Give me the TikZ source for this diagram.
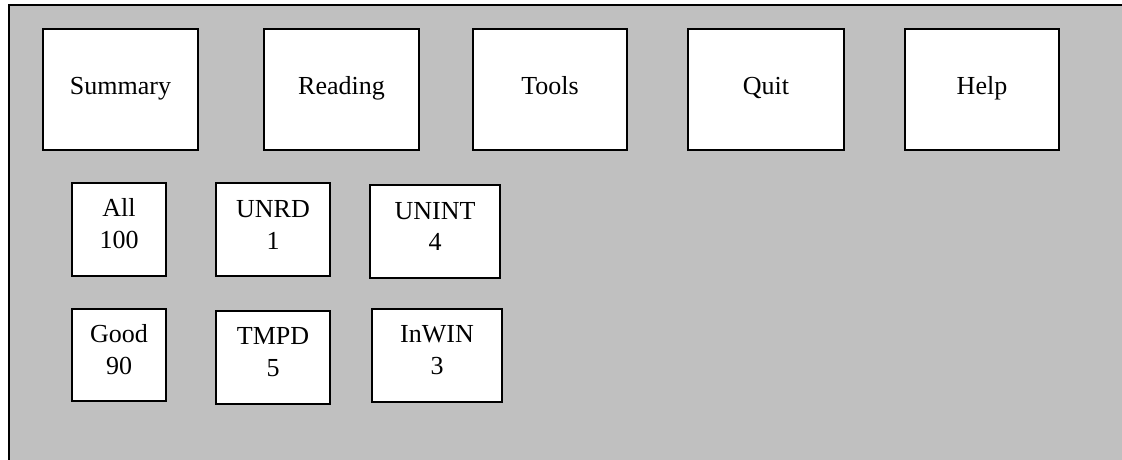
\documentclass[tikz,border=0pt]{standalone}
\usepackage{fontspec}
\setmainfont{Liberation Serif}
\definecolor{panelgray}{HTML}{C0C0C0}
\begin{document}
\begin{tikzpicture}[x=1bp,y=-1bp,
  boxstyle/.style={draw=black, line width=1.5bp, fill=white},
  txt/.style={anchor=base, inner sep=0pt, font=\fontsize{26bp}{31.5bp}\selectfont}]
\useasboundingbox (0,0) rectangle (1122,460);
\path[draw=black, line width=1.5bp, fill=panelgray] (9,5) rectangle (1140,480);
% top row
\path[boxstyle] (43,29) rectangle (198,150) node[pos=0.5] (summarybox) {};
\node[txt] (summary) at (120.5,95) {Summary};
\path[boxstyle] (264,29) rectangle (419,150) node[pos=0.5] (readingbox) {};
\node[txt] (reading) at (341.5,95) {Reading};
\path[boxstyle] (473,29) rectangle (627,150) node[pos=0.5] (toolsbox) {};
\node[txt] (tools) at (550,95) {Tools};
\path[boxstyle] (688,29) rectangle (844,150) node[pos=0.5] (quitbox) {};
\node[txt] (quit) at (766,95) {Quit};
\path[boxstyle] (905,29) rectangle (1059,150) node[pos=0.5] (helpbox) {};
\node[txt] (help) at (982,95) {Help};
% second row
\path[boxstyle] (72,183) rectangle (166,276) node[pos=0.5] (allbox) {};
\node[txt] (allA) at (119,217) {All};
\node[txt] (allB) at (119,249) {100};
\path[boxstyle] (216,183) rectangle (330,276) node[pos=0.5] (unrdbox) {};
\node[txt] (unrdA) at (273,217.5) {UNRD};
\node[txt] (unrdB) at (273,249.5) {1};
\path[boxstyle] (370,185) rectangle (500,278) node[pos=0.5] (unintbox) {};
\node[txt] (unintA) at (435,219.5) {UNINT};
\node[txt] (unintB) at (435,251) {4};
% third row
\path[boxstyle] (72,309) rectangle (166,401) node[pos=0.5] (goodbox) {};
\node[txt] (goodA) at (119,343) {Good};
\node[txt] (goodB) at (119,375) {90};
\path[boxstyle] (216,311) rectangle (330,404) node[pos=0.5] (tmpdbox) {};
\node[txt] (tmpdA) at (273,345) {TMPD};
\node[txt] (tmpdB) at (273,377) {5};
\path[boxstyle] (372,309) rectangle (502,402) node[pos=0.5] (inwinbox) {};
\node[txt] (inwinA) at (437,343) {InWIN};
\node[txt] (inwinB) at (437,374.5) {3};
\end{tikzpicture}
\end{document}
